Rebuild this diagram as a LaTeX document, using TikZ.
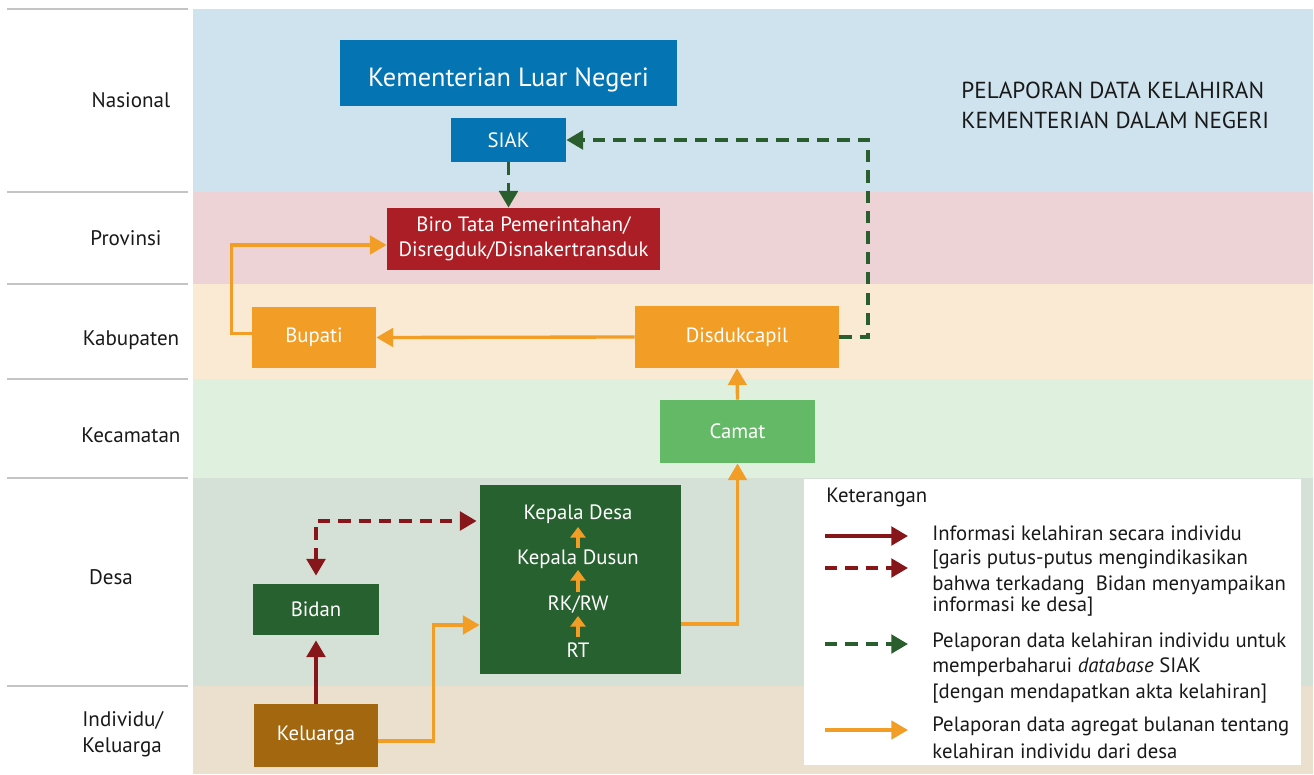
\documentclass[tikz,border=0pt]{standalone}
\usepackage{fontspec}
\setmainfont{PT Sans}
\usetikzlibrary{arrows.meta,calc}
\definecolor{bandN}{HTML}{CFE3EF}
\definecolor{bandP}{HTML}{EED3D6}
\definecolor{bandK}{HTML}{FBEAD3}
\definecolor{bandC}{HTML}{E0F0DE}
\definecolor{bandD}{HTML}{D5E0D6}
\definecolor{bandI}{HTML}{EBE0CE}
\definecolor{cblue}{HTML}{0474B2}
\definecolor{cred}{HTML}{AC1E25}
\definecolor{corange}{HTML}{F29E26}
\definecolor{clgreen}{HTML}{64B966}
\definecolor{cdgreen}{HTML}{286130}
\definecolor{cbrown}{HTML}{A2670F}
\definecolor{arrred}{HTML}{86161A}
\definecolor{arrgreen}{HTML}{2A5E2E}
\definecolor{gridgray}{HTML}{C4C4C4}
\begin{document}
\begin{tikzpicture}[x=0.02cm,y=-0.02cm,
  sz/.style 2 args={minimum width=#1*0.02cm, minimum height=#2*0.02cm},
  box/.style={inner sep=0pt, text=white, align=center, font=\fontsize{11.8}{14.2}\selectfont},
  lvl/.style={font=\fontsize{12}{14.5}\selectfont, text=black!90, inner sep=0pt},
  leg/.style={font=\fontsize{11.8}{13}\selectfont, text=black!90, inner sep=0pt, anchor=west},
  tip/.style={-{Triangle[length=9.5pt,width=10.5pt]}},
  org/.style={draw=corange, line width=1.9pt, tip},
  redarr/.style={draw=arrred, line width=2.2pt, tip},
  reddash/.style={draw=arrred, line width=2.2pt, dash pattern=on 7pt off 4.6pt},
  grdash/.style={draw=arrgreen, line width=2.2pt, dash pattern=on 7pt off 4.6pt, tip},
  smallarr/.style={draw=corange, line width=2pt, -{Triangle[length=6pt,width=8.5pt]}},
  gridline/.style={draw=gridgray, line width=1.2pt}
]
\useasboundingbox (0,0) rectangle (1314,774);
% bands
\fill[bandN] (193,9) rectangle (1313,192);
\fill[bandP] (193,192) rectangle (1313,284);
\fill[bandK] (193,284) rectangle (1313,379);
\fill[bandC] (193,379) rectangle (1313,478);
\fill[bandD] (193,478) rectangle (1313,686);
\fill[bandI] (193,686) rectangle (1313,774);
\foreach \yy in {9,192,284,379,478,686} \draw[gridline] (7,\yy) -- (188,\yy);
% level labels
\node[lvl] (lnas) at (131,100) {Nasional};
\node[lvl] (lprov) at (126,238) {Provinsi};
\node[lvl] (lkab) at (131,340) {Kabupaten};
\node[lvl] (lkec) at (131,435) {Kecamatan};
\node[lvl] (ldesa) at (111,577) {Desa};
\node[lvl, anchor=west, align=left] (lind) at (82,734) {Individu/\\Keluarga};
% title
\node[font=\fontsize{13.2}{17}\selectfont, text=black!90, align=left, anchor=west, inner sep=0pt] (title) at (961,105) {PELAPORAN DATA KELAHIRAN\\KEMENTERIAN DALAM NEGERI};
% boxes
\node[box, fill=cblue, sz={337}{66}, font=\fontsize{15}{18}\selectfont, text height=15pt, text depth=0pt] (kln) at (508.5,73) {Kementerian Luar Negeri};
\node[box, fill=cblue, sz={115}{44}] (siak) at (508.5,140) {SIAK};
\node[box, fill=cred, sz={273}{62}] (biro) at (523.5,239) {Biro Tata Pemerintahan/\\Disregduk/Disnakertransduk};
\node[box, fill=corange, sz={124}{61}] (bupati) at (314,337.5) {Bupati};
\node[box, fill=corange, sz={204}{62}] (dukcapil) at (737,337) {Disdukcapil};
\node[box, fill=clgreen, sz={155}{63}] (camat) at (737.5,431.5) {Camat};
\node[box, fill=cdgreen, sz={126}{51}] (bidan) at (316,609.5) {Bidan};
\node[box, fill=cbrown, sz={124}{63}] (keluarga) at (316,735.5) {Keluarga};
\node[box, fill=cdgreen, sz={201}{189}] (desabox) at (580.5,579.5) {};
\node[box] (kdesa) at (578,514) {Kepala Desa};
\node[box] (kdusun) at (578,559) {Kepala Dusun};
\node[box] (rkrw) at (578,605) {RK/RW};
\node[box] (rt) at (578,650) {RT};
\draw[smallarr] ($(kdusun.center)+(0,-11)$) -- ($(kdesa.center)+(0,13)$);
\draw[smallarr] ($(rkrw.center)+(0,-13)$) -- ($(kdusun.center)+(0,11)$);
\draw[smallarr] ($(rt.center)+(0,-13)$) -- ($(rkrw.center)+(0,11)$);
% connectors
\draw[grdash] (siak.south) -- (siak.south |- biro.north);
\draw[grdash] (dukcapil.east) -- ++(29,0) |- (siak.east);
\draw[org] (dukcapil.west) -- (bupati.east);
\draw[org] ($(bupati.west)+(0,-4)$) -- ++(-20,0) |- ($(biro.west)+(0,6)$);
\draw[org] (camat.north) -- (dukcapil.south);
\draw[org] ($(desabox.east)+(0,44.5)$) -| (camat.south);
\draw[org] ($(keluarga.east)+(0,5.5)$) -- ++(55,0) |- ($(desabox.west)+(0,45.5)$);
\draw[redarr, shorten >=5*0.02cm] (keluarga.north) -- (bidan.south);
\draw[reddash, {Triangle[length=9.5pt,width=10.5pt]}-{Triangle[length=9.5pt,width=10.5pt]}, shorten <=8*0.02cm, shorten >=3*0.02cm] (bidan.north) |- ($(desabox.west)+(0,-58.5)$);
% legend
\fill[white] (804,479) rectangle (1301,765);
\node[leg] (legtitle) at (826,497) {Keterangan};
\coordinate (la1) at (825,536); \coordinate (lb1) at (908,536);
\coordinate (la2) at (825,568); \coordinate (lb2) at (908,568);
\coordinate (la3) at (825,644); \coordinate (lb3) at (908,644);
\coordinate (la4) at (825,730); \coordinate (lb4) at (908,730);
\draw[redarr] (la1) -- (lb1);
\draw[reddash, tip] (la2) -- (lb2);
\draw[grdash] (la3) -- (lb3);
\draw[org] (la4) -- (lb4);
\node[leg] (t1) at (932,533) {Informasi kelahiran secara individu};
\node[leg] (t2) at (932,560) {[garis putus-putus mengindikasikan};
\node[leg] (t3) at (932,585) {bahwa terkadang\ \ Bidan menyampaikan};
\node[leg] (t4) at (932,607) {informasi ke desa]};
\node[leg] (t5) at (932,642) {Pelaporan data kelahiran individu untuk};
\node[leg] (t6) at (932,667) {memperbaharui \textit{database} SIAK};
\node[leg] (t7) at (932,694) {[dengan mendapatkan akta kelahiran]};
\node[leg] (t8) at (932,726) {Pelaporan data agregat bulanan tentang};
\node[leg] (t9) at (932,751) {kelahiran individu dari desa};
\end{tikzpicture}
\end{document}
